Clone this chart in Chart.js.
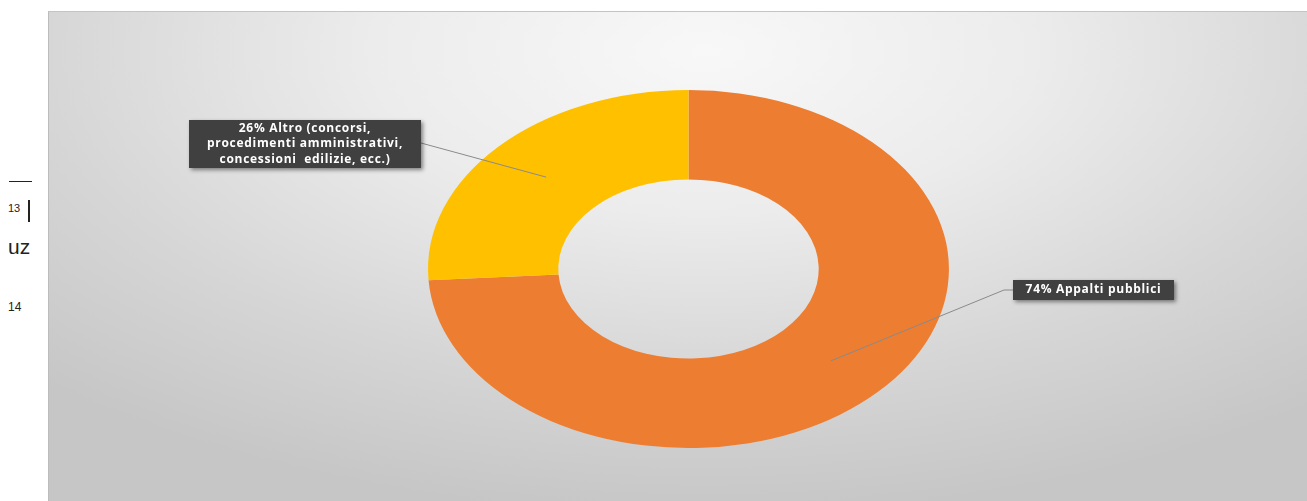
<!DOCTYPE html>
<html lang="it">
<head>
<meta charset="utf-8">
<script src="https://cdn.jsdelivr.net/npm/chart.js@4"></script>
<style>
  html, body { margin: 0; padding: 0; background: #fff; width: 1307px; height: 501px; overflow: hidden; }
  .nota { position: absolute; font-family: "Liberation Sans", "Open Sans", sans-serif; color: #222; }
  #riquadro {
    position: absolute; left: 48px; top: 11px; width: 1259px; height: 490px;
    box-sizing: border-box; border-left: 1px solid #bcbcbc; border-top: 1px solid #c4c4c4;
    background: radial-gradient(ellipse 75% 95% at 52% 8%, #f8f8f8 0%, #ececec 35%, #d6d6d6 70%, #c6c6c6 100%);
  }
  #grafico { display: block; }
</style>
</head>
<body>
<!-- testo del documento scansionato, a sinistra del grafico -->
<div class="nota" style="left:9px;top:181px;width:23px;height:0;border-top:1.5px solid #222;"></div>
<div class="nota" style="left:8px;top:202px;font-size:11px;">13</div>
<div class="nota" style="left:28px;top:200px;width:1.5px;height:22px;background:#222;"></div>
<div class="nota" style="left:8px;top:235px;font-size:21px;">uz</div>
<div class="nota" style="left:8px;top:300px;font-size:12px;">14</div>

<div id="riquadro"><canvas id="grafico" width="1259" height="490"></canvas></div>

<script>
// Dati del grafico
const categorie = ['Appalti pubblici', 'Altro (concorsi, procedimenti amministrativi, concessioni  edilizie, ecc.)'];
const percentuali = [74, 26];
const etichette = [
    ['74% Appalti pubblici'],
    ['26% Altro (concorsi,', 'procedimenti amministrativi,', 'concessioni  edilizie, ecc.)']
];
const colori = ['#ED7D31', '#FFC000'];

// Il grafico originale e' schiacciato: allargo l'anello in orizzontale
const SCALA_X = 1.455;

const ellisse = {
    id: 'ellisse',
    beforeDatasetsDraw(chart) {
        const arco = chart.getDatasetMeta(0).data[0];
        const ctx = chart.ctx;
        ctx.save();
        ctx.translate(arco.x, arco.y);
        ctx.scale(SCALA_X, 1);
        ctx.translate(-arco.x, -arco.y);
    },
    afterDatasetsDraw(chart) {
        chart.ctx.restore();
    }
};

// Posizione dei riquadri scuri rispetto al centro dell'anello (stile)
const riquadri = [
    { dx: 324.5, dy: 11, w: 161, lato: 'sinistra', gomito: 9 },
    { dx: -499.5, dy: -149, w: 232, lato: 'destra', gomito: 0 }
];

const etichetteScure = {
    id: 'etichetteScure',
    afterDraw(chart) {
        const ctx = chart.ctx;
        const meta = chart.getDatasetMeta(0);
        meta.data.forEach((arco, i) => {
            const r = riquadri[i];
            const righe = etichette[i];
            const medio = (arco.startAngle + arco.endAngle) / 2;
            const raggio = (arco.innerRadius + arco.outerRadius) / 2;
            const ax = arco.x + Math.cos(medio) * raggio * SCALA_X;
            const ay = arco.y + Math.sin(medio) * raggio;
            const h = righe.length * 16 + (righe.length === 1 ? 4 : 0);
            const bx = arco.x + r.dx;
            const by = arco.y + r.dy;

            // linea guida
            ctx.save();
            ctx.strokeStyle = '#8a8a8a';
            ctx.lineWidth = 1;
            ctx.beginPath();
            ctx.moveTo(ax, ay);
            if (r.lato === 'sinistra') {
                ctx.lineTo(bx - r.gomito, by + h / 2);
                ctx.lineTo(bx, by + h / 2);
            } else {
                ctx.lineTo(bx + r.w, by + h / 2 - 1);
            }
            ctx.stroke();
            ctx.restore();

            // riquadro con ombra
            ctx.save();
            ctx.shadowColor = 'rgba(0,0,0,0.45)';
            ctx.shadowBlur = 4;
            ctx.shadowOffsetX = 2;
            ctx.shadowOffsetY = 2;
            ctx.fillStyle = '#404040';
            ctx.fillRect(bx, by, r.w, h);
            ctx.restore();

            ctx.save();
            ctx.fillStyle = '#ffffff';
            ctx.font = 'bold 12px "Open Sans"';
            ctx.letterSpacing = '0.7px';
            ctx.textAlign = 'center';
            ctx.textBaseline = 'middle';
            righe.forEach((riga, k) => {
                ctx.fillText(riga, bx + r.w / 2, by + 8.5 + (righe.length === 1 ? 1.5 : 0) + k * 15.5);
            });
            ctx.restore();
        });
    }
};

const ctx = document.getElementById('grafico').getContext('2d');
const grafico = new Chart(ctx, {
    type: 'doughnut',
    data: {
        labels: categorie,
        datasets: [{
            data: percentuali,
            backgroundColor: colori,
            borderWidth: 0
        }]
    },
    options: {
        responsive: false,
        animation: false,
        cutout: '50%',
        layout: { padding: { top: 78, bottom: 54, left: 20, right: 0 } },
        plugins: {
            legend: { display: false },
            tooltip: { enabled: false }
        }
    },
    plugins: [ellisse, etichetteScure]
});
</script>
</body>
</html>
